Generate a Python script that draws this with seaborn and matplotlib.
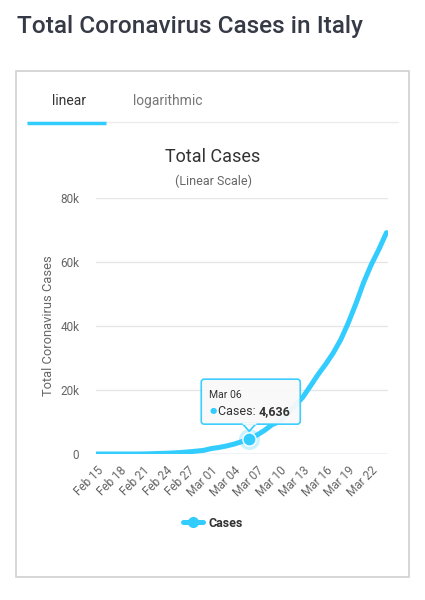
import numpy as np
import pandas as pd
import matplotlib
matplotlib.use('Agg')
import matplotlib.pyplot as plt
import seaborn as sns
from matplotlib.patches import FancyBboxPatch, Polygon, Rectangle
from matplotlib.lines import Line2D
from matplotlib.transforms import IdentityTransform

# ==========================================
# DATOS
# ==========================================
fechas = ["Feb 15", "Feb 16", "Feb 17", "Feb 18", "Feb 19", "Feb 20", "Feb 21", "Feb 22",
          "Feb 23", "Feb 24", "Feb 25", "Feb 26", "Feb 27", "Feb 28", "Feb 29", "Mar 01",
          "Mar 02", "Mar 03", "Mar 04", "Mar 05", "Mar 06", "Mar 07", "Mar 08", "Mar 09",
          "Mar 10", "Mar 11", "Mar 12", "Mar 13", "Mar 14", "Mar 15", "Mar 16", "Mar 17",
          "Mar 18", "Mar 19", "Mar 20", "Mar 21", "Mar 22", "Mar 23", "Mar 24"]
casos = [3, 3, 3, 3, 3, 3, 20, 79, 157, 229, 323, 470, 655, 889, 1128, 1694,
         2036, 2502, 3089, 3858, 4636, 5883, 7375, 9172, 10149, 12462, 15113, 17660,
         21157, 24747, 27980, 31506, 35713, 41035, 47021, 53578, 59138, 63927, 69176]
ticks_x = ["Feb 15", "Feb 18", "Feb 21", "Feb 24", "Feb 27", "Mar 01", "Mar 04",
           "Mar 07", "Mar 10", "Mar 13", "Mar 16", "Mar 19", "Mar 22"]
ticks_y = [0, 20000, 40000, 60000, 80000]
ticks_y_txt = ["0", "20k", "40k", "60k", "80k"]
punto_tooltip = "Mar 06"

CIAN = '#33ccff'
W, H = 425, 600

df = pd.DataFrame({'fecha': fechas, 'casos': casos})
df['dia'] = np.arange(len(df))

sns.set_theme(style="white")
plt.rcParams['font.family'] = ['Roboto', 'DejaVu Sans']

fig = plt.figure(figsize=(W / 100, H / 100), dpi=100)

def fx(px):
    return px / W

def fy(py):
    return 1 - py / H

# Titulo de la pagina
fig.text(fx(17), fy(27), "Total Coronavirus Cases in Italy", fontsize=17.6, fontweight='medium',
         color='#353a46', ha='left', va='center')

# Tarjeta
fig.add_artist(Rectangle((fx(16), fy(577)), fx(409) - fx(16), fy(71) - fy(577),
                         transform=fig.transFigure, fill=False, edgecolor='#d0d0d0', linewidth=1.2))

# Pestañas
fig.text(fx(69), fy(101), "linear", fontsize=10, color='#333333', ha='center', va='center')
fig.text(fx(168), fy(101), "logarithmic", fontsize=10, color='#777777', ha='center', va='center')
fig.add_artist(Line2D([fx(27), fx(398)], [fy(122), fy(122)], transform=fig.transFigure,
                      color='#ececec', linewidth=1))
fig.add_artist(Line2D([fx(27), fx(106)], [fy(123), fy(123)], transform=fig.transFigure,
                      color=CIAN, linewidth=2.5, solid_capstyle='butt'))

# Titulos del grafico
fig.text(fx(213), fy(157), "Total Cases", fontsize=13, color='#333333', ha='center', va='center')
fig.text(fx(213), fy(181), "(Linear Scale)", fontsize=9, color='#666666', ha='center', va='center')

# ==========================================
# GRAFICO
# ==========================================
ax = fig.add_axes([fx(96), fy(454), fx(388) - fx(96), fy(198) - fy(454)])
sns.lineplot(data=df, x='dia', y='casos', color=CIAN, linewidth=3.6, ax=ax, legend=False)
ax.set_xlim(-0.1, len(df) - 1 + 0.2)
ax.set_ylim(0, 80000)

for s in ax.spines.values():
    s.set_visible(False)

ax.set_yticks(ticks_y)
ax.set_yticklabels(ticks_y_txt, fontsize=8.5, color='#666666')
ax.yaxis.grid(True, color='#e6e6e6', linewidth=1)
ax.axhline(0, color='#ccd6eb', linewidth=1, zorder=1)
ax.tick_params(axis='y', length=0, pad=12)

pos_x = [fechas.index(t) for t in ticks_x]
ax.set_xticks(pos_x)
ax.set_xticklabels(ticks_x, fontsize=8.5, color='#666666', rotation=45, ha='right',
                   rotation_mode='anchor')
ax.tick_params(axis='x', length=0, pad=7)
ax.set_xlabel('')
ax.set_ylabel("Total Coronavirus Cases", fontsize=9.3, color='#666666')
ax.yaxis.set_label_coords((55 - 96) / 292, 0.5)

# Punto resaltado
i_tt = fechas.index(punto_tooltip)
v_tt = casos[i_tt]
ax.scatter([i_tt], [v_tt], s=230, color=CIAN, alpha=0.25, linewidths=0, zorder=4)
ax.scatter([i_tt], [v_tt], s=90, color=CIAN, edgecolors='white', linewidths=1, zorder=5)

# Tooltip
fig.canvas.draw()
px, py = ax.transData.transform((i_tt, v_tt))
ident = IdentityTransform()
bx0, by0, bw, bh = px - 48, py + 15, 99, 45
fig.add_artist(FancyBboxPatch((bx0, by0), bw, bh, boxstyle='round,pad=0,rounding_size=3',
                              transform=ident, facecolor='#f9f9f9', edgecolor=CIAN,
                              linewidth=1.2, alpha=0.95, zorder=10))
fig.add_artist(Polygon([(px - 7, by0 + 0.6), (px + 7, by0 + 0.6), (px, py + 8)], closed=True,
                       transform=ident, facecolor='#f9f9f9', edgecolor=CIAN, linewidth=1.2,
                       zorder=11))
fig.add_artist(Line2D([px - 6, px + 6], [by0 + 0.8, by0 + 0.8], transform=ident,
                      color='#f9f9f9', linewidth=1.8, zorder=12))
fig.text(bx0 + 8, by0 + 29, punto_tooltip, transform=ident, fontsize=7.5, color='#333333',
         ha='left', va='center', zorder=13)
fig.text(bx0 + 8, by0 + 13, "\u25CF", transform=ident, fontsize=6, color=CIAN,
         ha='left', va='center', zorder=13)
t1 = fig.text(bx0 + 17, by0 + 13, "Cases: ", transform=ident, fontsize=9, color='#333333',
              ha='left', va='center', zorder=13)
fig.canvas.draw()
ext = t1.get_window_extent()
fig.text(ext.x1, by0 + 13, f"{v_tt:,}", transform=ident, fontsize=9, color='#333333',
         fontweight='bold', ha='left', va='center', zorder=13)

# Leyenda
handle = Line2D([], [], color=CIAN, linewidth=3.6, marker='o', markersize=7)
leg = fig.legend([handle], ["Cases"], loc='center', bbox_to_anchor=(fx(213), fy(523)),
                 frameon=False, handlelength=1.3, handletextpad=0.4)
for t in leg.get_texts():
    t.set_fontweight('bold')
    t.set_fontsize(9)
    t.set_color('#333333')

plt.savefig("out.png", dpi=100)
